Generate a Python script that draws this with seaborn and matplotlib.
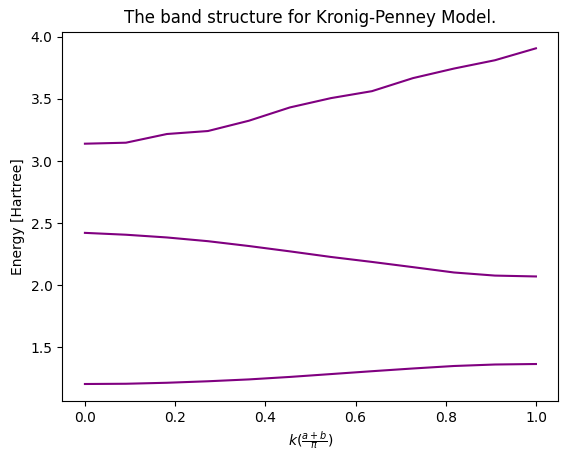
import numpy as np
import pandas as pd
import seaborn as sns
import matplotlib
matplotlib.use("Agg")
import matplotlib.pyplot as plt

# k values (in units of pi/(a+b)), 12 points from 0 to 1
k = [0.0, 0.0909, 0.1818, 0.2727, 0.3636, 0.4545, 0.5455, 0.6364, 0.7273, 0.8182, 0.9091, 1.0]

# band energies
band1 = [1.205, 1.207, 1.215, 1.227, 1.242, 1.262, 1.285, 1.308, 1.330, 1.350, 1.362, 1.366]
band2 = [2.422, 2.407, 2.385, 2.355, 2.316, 2.273, 2.228, 2.188, 2.146, 2.103, 2.078, 2.071]
band3 = [3.140, 3.148, 3.218, 3.242, 3.325, 3.432, 3.507, 3.563, 3.668, 3.745, 3.812, 3.908]

df = pd.DataFrame({"k": k * 3,
                   "E": band1 + band2 + band3,
                   "band": [1] * 12 + [2] * 12 + [3] * 12})

fig, ax = plt.subplots(figsize=(5.67, 4.57), dpi=100)
fig.subplots_adjust(left=0.11, right=0.985, top=0.931, bottom=0.123)

for b, sub in df.groupby("band"):
    sns.lineplot(data=sub, x="k", y="E", color="purple", ax=ax, estimator=None, sort=False)

ax.set_title("The band structure for Kronig-Penney Model.")
ax.set_xlabel(r"$k(\frac{a+b}{\pi})$")
ax.set_ylabel("Energy [Hartree]")

plt.savefig("out.png")
